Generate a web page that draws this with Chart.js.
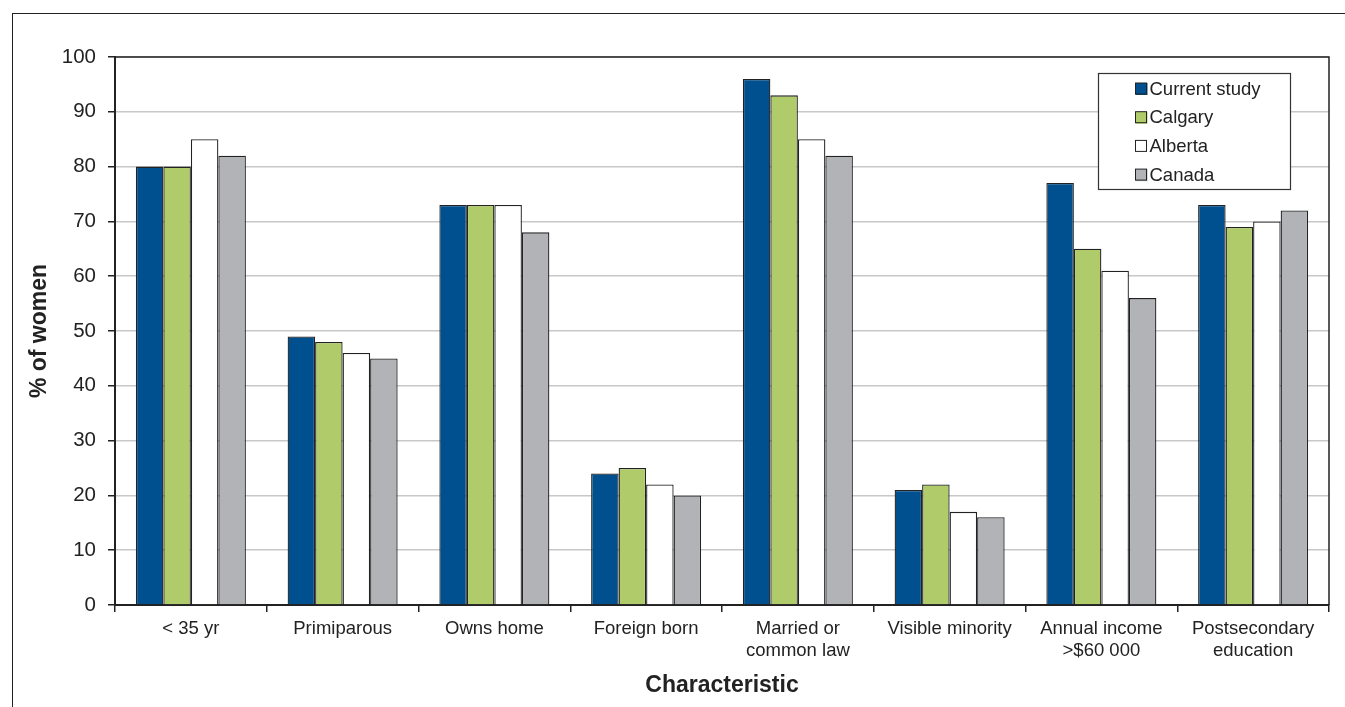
<!DOCTYPE html>
<html>
<head>
<meta charset="utf-8">
<script src="https://cdn.jsdelivr.net/npm/chart.js@4.4.0/dist/chart.umd.min.js"></script>
<style>
  html, body { margin: 0; padding: 0; background: #fff; }
  #wrap { position: relative; width: 1345px; height: 707px; }
  #frame { position: absolute; left: 12px; top: 13px; right: 0; bottom: 0;
           border-top: 1.5px solid #222; border-left: 1.5px solid #222; }
  #c { position: absolute; left: 0; top: 0; }
</style>
</head>
<body>
<div id="wrap">
  <div id="frame"></div>
  <canvas id="c" width="1345" height="707"></canvas>
</div>
<script>
const categories = ['< 35 yr', 'Primiparous', 'Owns home', 'Foreign born',
  ['Married or', 'common law'], 'Visible minority', ['Annual income', '>$60 000'],
  ['Postsecondary', 'education']];
const seriesNames = ['Current study', 'Calgary', 'Alberta', 'Canada'];
const currentStudy = [80, 49, 73, 24, 96, 21, 77, 73];
const calgary      = [80, 48, 73, 25, 93, 22, 65, 69];
const alberta      = [85, 46, 73, 22, 85, 17, 61, 70];
const canada       = [82, 45, 68, 20, 82, 16, 56, 72];
const yTicks = [0, 10, 20, 30, 40, 50, 60, 70, 80, 90, 100];

const colors = ['#00508f', '#b0cc6a', '#ffffff', '#b1b3b6'];
const values = [currentStudy, calgary, alberta, canada];
const FONT = "'Liberation Sans', Arial, sans-serif";

const legendPlugin = {
  id: 'boxLegend',
  afterDraw(chart) {
    const ctx = chart.ctx;
    const ca = chart.chartArea;
    ctx.save();
    ctx.strokeStyle = '#222';
    ctx.lineWidth = 1.5;
    ctx.beginPath();
    ctx.moveTo(ca.left, ca.top);
    ctx.lineTo(ca.right, ca.top);
    ctx.lineTo(ca.right, ca.bottom);
    ctx.stroke();
    const bx = 1098.5, by = 73.5, bw = 192, bh = 116;
    ctx.fillStyle = '#fff';
    ctx.fillRect(bx, by, bw, bh);
    ctx.lineWidth = 1.2;
    ctx.strokeStyle = '#333';
    ctx.strokeRect(bx, by, bw, bh);
    ctx.font = '18.5px ' + FONT;
    ctx.textBaseline = 'middle';
    chart.data.datasets.forEach((ds, i) => {
      const y = 88.5 + i * 28.7;
      ctx.fillStyle = ds.backgroundColor;
      ctx.fillRect(1135.5, y - 5.5, 12, 12);
      ctx.strokeStyle = '#222';
      ctx.lineWidth = 1;
      ctx.strokeRect(1135.5, y - 5.5, 11, 11);
      ctx.fillStyle = '#222';
      ctx.fillText(ds.label, 1149.5, y + 1);
    });
    ctx.restore();
  }
};

new Chart(document.getElementById('c'), {
  type: 'bar',
  data: {
    labels: categories,
    datasets: seriesNames.map((n, i) => ({
      label: n,
      data: values[i],
      backgroundColor: colors[i],
      borderColor: '#222',
      borderWidth: 1.3,
      barPercentage: 1.0,
      categoryPercentage: 0.725
    }))
  },
  options: {
    responsive: false,
    animation: false,
    devicePixelRatio: 1,
    layout: { padding: { left: 22, right: 16, top: 57, bottom: 4 } },
    plugins: { legend: { display: false }, tooltip: { enabled: false } },
    scales: {
      x: {
        grid: { display: true, drawOnChartArea: false, drawTicks: true, tickLength: 7,
                color: '#222', lineWidth: 1.5, offset: true },
        border: { color: '#222', width: 2 },
        ticks: { color: '#222', font: { size: 18.5, family: FONT }, padding: 6, maxRotation: 0,
                 autoSkip: false, lineHeight: 1.15 },
        title: { display: true, text: 'Characteristic', color: '#222',
                 font: { size: 23, weight: 'bold', family: FONT }, padding: { top: 20 } },
        afterFit(s) { s.height = 707 - 605 - 4; }
      },
      y: {
        min: 0, max: 100,
        afterBuildTicks(s) { s.ticks = yTicks.map(v => ({ value: v })); },
        grid: { color: '#c8c8c8', lineWidth: 1.5, tickLength: 7, tickColor: '#222' },
        border: { color: '#222', width: 2 },
        ticks: { color: '#222', font: { size: 20.5, family: FONT }, padding: 12 },
        title: { display: true, text: '% of women', color: '#222',
                 font: { size: 23, weight: 'bold', family: FONT }, padding: { bottom: 6 } },
        afterFit(s) { s.width = 115 - 22; }
      }
    }
  },
  plugins: [legendPlugin]
});
</script>
</body>
</html>
